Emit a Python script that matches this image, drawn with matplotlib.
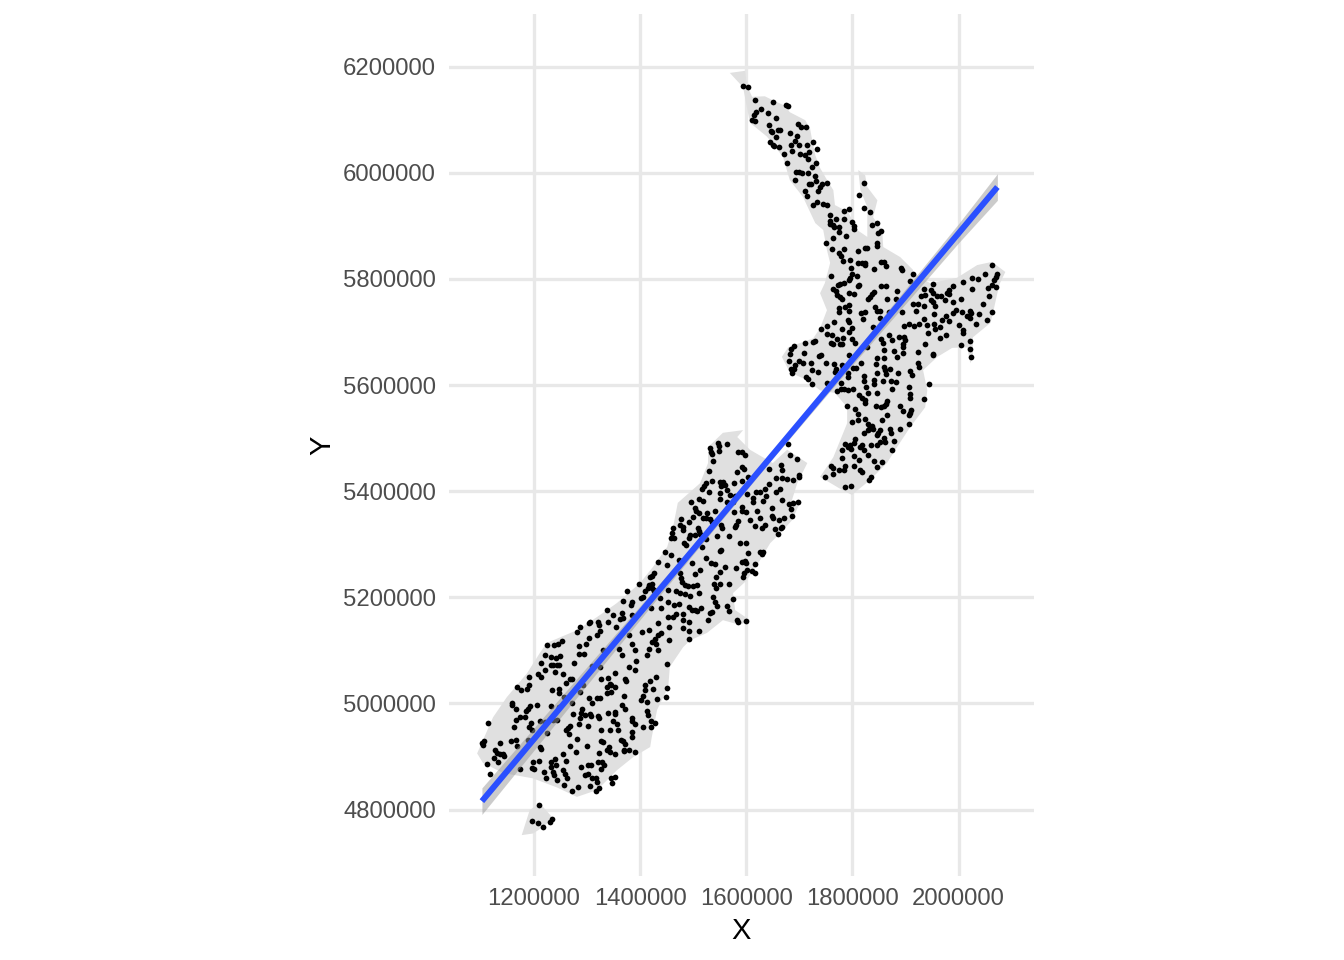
import matplotlib
matplotlib.use("Agg")
import matplotlib.pyplot as plt
from matplotlib.ticker import FuncFormatter
from matplotlib.transforms import ScaledTranslation

plt.rcParams['font.family'] = ['Liberation Sans', 'DejaVu Sans']

KM = 1000
x_ticks = [1200000, 1400000, 1600000, 1800000, 2000000]
y_ticks = [4800000, 5000000, 5200000, 5400000, 5600000, 5800000, 6000000, 6200000]

# coastline outlines, km
north_outline_x = [1569,1598,1601,1611,1635,1649,1673,1682,1711,1720,1724,1730,1739,1750,1764,1767,1792,1809,1828,1828,1815,1811,1824,1828,1847,1839,1856,1858,1890,1914,1914,1946,1997,2035,2063,2088,2078,2073,2065,2060,2027,2027,2022,2016,1988,1960,1933,1941,1937,1909,1884,1865,1833,1799,1781,1739,1764,1790,1790,1767,1739,1715,1682,1667,1679,1726,1739,1752,1739,1748,1758,1752,1745,1730,1707,1682,1669,1639,1607,1601,1594]
north_outline_y = [6188,6192,6165,6143,6144,6137,6126,6114,6099,6084,6062,6033,6009,5990,5967,5939,5926,5892,5879,5935,5967,6005,5995,5973,5948,5916,5892,5860,5841,5817,5811,5792,5802,5826,5832,5813,5792,5773,5737,5717,5690,5653,5641,5671,5670,5653,5628,5590,5558,5521,5483,5453,5421,5393,5402,5427,5464,5528,5558,5585,5590,5609,5624,5653,5671,5688,5707,5741,5773,5792,5830,5854,5892,5905,5954,5986,6030,6068,6094,6124,6161]
south_outline_x = [1556,1594,1583,1607,1650,1677,1715,1696,1686,1701,1686,1664,1645,1626,1601,1575,1579,1607,1588,1556,1526,1494,1481,1456,1453,1432,1422,1419,1387,1356,1319,1281,1243,1198,1142,1104,1093,1104,1123,1149,1187,1211,1224,1281,1319,1356,1400,1424,1451,1462,1471,1513,1528,1528]
south_outline_y = [5510,5515,5502,5478,5453,5478,5453,5415,5383,5378,5345,5321,5302,5270,5232,5208,5176,5157,5148,5157,5133,5119,5106,5069,5031,4988,4937,4918,4899,4874,4837,4824,4842,4859,4869,4888,4906,4931,4974,5012,5057,5095,5114,5138,5163,5189,5227,5257,5295,5332,5378,5415,5453,5483]
stewart_outline_x = [1177,1192,1211,1236,1217,1198]
stewart_outline_y = [4752,4799,4812,4784,4767,4755]

# sample points, km
northland_x = [1593,1603,1617,1650,1674,1678,1627,1618,1640,1615,1656,1610,1617,1643,1697,1703,1712,1646,1649,1659,1664,1683,1656,1696,1692,1645,1651,1652,1661,1684,1700,1715,1725,1734,1686,1672,1701,1710,1718,1717,1677,1732,1723,1693,1699,1705,1717,1730,1692,1731,1719,1722,1753,1742,1738,1711,1735,1715,1725,1734,1745,1752,1821,1813,1822,1833,1785,1794,1757,1769,1784,1799,1758,1757,1763,1765,1774,1775,1802,1803,1836,1846,1854,1849,1764,1788,1751,1762,1847,1847,1811,1824,1827,1784]
northland_y = [6163,6161,6137,6134,6127,6125,6120,6115,6113,6109,6103,6100,6097,6090,6092,6087,6087,6079,6077,6080,6080,6075,6068,6069,6060,6058,6053,6051,6048,6052,6052,6053,6058,6044,6041,6035,6035,6034,6039,6026,6019,6019,6010,6002,6002,5999,5999,5994,5987,5984,5979,5979,5980,5979,5973,5965,5965,5957,5940,5945,5941,5940,5981,5958,5934,5926,5927,5931,5921,5913,5912,5908,5909,5904,5902,5897,5897,5889,5900,5894,5901,5905,5890,5886,5877,5881,5867,5856,5868,5862,5853,5859,5859,5856]

north_x = [1774,1779,1782,1796,1798,1810,1818,1824,1823,1840,1854,1859,1863,1891,1894,1915,1909,1760,1800,1808,1796,1793,1777,1772,1784,1813,1810,1764,1769,1854,1863,1884,1951,2009,2026,2037,2049,2063,2072,2070,2067,2063,2056,2071,1990,1981,1979,1982,2025,1793,1802,1840,1837,1833,1830,1866,1882,1780,1771,1777,1934,1948,1951,1959,1967,1937,1929,1975,1989,2004,1948,1951,1915,1923,1934,1794,1786,1774,1774,1793,1843,1847,1852,1823,1817,1820,1851,1868,1894,1919,1956,1954,1990,1995,2006,2022,2024,2016,2022,2039,2063,2045,2058,1977,1968,1982,1934,1898,1907,1916,1926,1941,1954,1964,1956,1943,2000,2009,2008,2032,2053,1766,1791,1794,1740,1753,1780,1799,1794,1753,1762,1759,1764,1771,1777,1780,1783,1799,1804,1729,1725,1710,1690,1684,1709,1683,1681,1700,1707,1722,1740,1737,1751,1692,1690,1684,1686,1723,1735,1712,1716,1723,1766,1769,1781,1783,1767,1753,1778,1771,1778,1784,1791,1801,1794,1801,1806,1816,1791,1791,1827,1838,1854,1857,1868,1875,1887,1897,1899,1896,1895,1859,1879,1896,1846,1860,1884,1923,1936,1951,1951,1923,1926,1965,1977,2005,2021,2021,2024,1845,1859,1862,1870,1846,1864,1886,1908,1912,1821,1822,1840,1841,1826,1857,1872,1882,1874,1906,1945,1909,1908,1830,1846,1813,1818,1824,1823,1866,1863,1859,1845,1853,1889,1895,1934,1910,1908,1906,1790,1805,1810,1811,1799,1865,1855,1823,1829,1837,1832,1829,1838,1906,1890,1871,1872,1852,1849,1846,1821,1860,1879,1862,1852,1847,1835,1805,1802,1818,1815,1822,1786,1791,1796,1798,1781,1830,1874,1780,1802,1813,1841,1855,1846,1760,1764,1774,1786,1784,1803,1815,1818,1764,1749,1835,1832,1786,1798]
north_y = [5849,5843,5834,5836,5821,5830,5830,5829,5826,5818,5831,5831,5824,5821,5816,5809,5796,5805,5810,5805,5801,5797,5791,5788,5792,5789,5786,5780,5777,5786,5786,5777,5790,5794,5801,5799,5810,5826,5809,5803,5797,5788,5782,5785,5786,5779,5774,5772,5780,5774,5771,5776,5771,5766,5762,5763,5763,5763,5769,5766,5781,5779,5774,5768,5768,5770,5768,5760,5757,5763,5761,5757,5752,5752,5748,5750,5747,5746,5737,5740,5747,5739,5740,5738,5735,5725,5727,5737,5737,5739,5748,5733,5735,5742,5737,5739,5735,5730,5727,5733,5737,5752,5768,5730,5723,5721,5725,5711,5715,5711,5715,5713,5715,5710,5705,5698,5713,5703,5698,5715,5722,5719,5722,5718,5706,5711,5706,5708,5700,5696,5695,5679,5678,5686,5677,5677,5689,5686,5680,5683,5681,5679,5674,5667,5661,5658,5645,5645,5642,5642,5657,5654,5642,5637,5631,5631,5623,5629,5625,5615,5612,5601,5640,5631,5637,5633,5625,5603,5603,5589,5592,5592,5590,5593,5656,5632,5632,5642,5623,5615,5672,5710,5686,5679,5694,5684,5691,5691,5684,5678,5672,5666,5664,5661,5651,5651,5652,5662,5678,5659,5656,5642,5634,5688,5694,5675,5683,5667,5652,5639,5634,5629,5630,5623,5620,5622,5627,5618,5617,5608,5609,5601,5597,5608,5608,5606,5593,5597,5602,5584,5576,5585,5585,5581,5576,5571,5566,5570,5565,5560,5560,5559,5560,5551,5573,5553,5548,5543,5561,5554,5546,5534,5531,5543,5534,5536,5527,5522,5518,5515,5518,5526,5517,5517,5510,5515,5510,5505,5509,5500,5495,5493,5493,5487,5487,5499,5490,5487,5483,5477,5488,5483,5487,5479,5477,5469,5478,5463,5467,5458,5456,5455,5446,5447,5443,5440,5447,5440,5447,5440,5436,5432,5426,5426,5421,5407,5409]

south_upper_x = [1546,1548,1564,1531,1533,1549,1536,1584,1591,1597,1679,1682,1695,1538,1592,1596,1582,1530,1665,1668,1643,1604,1577,1591,1536,1525,1521,1516,1550,1557,1560,1553,1530,1550,1563,1569,1602,1619,1626,1635,1643,1656,1668,1676,1688,1699,1700,1663,1656,1637,1613,1613,1632,1496,1511,1518,1550,1564,1579,1575,1668,1688,1698,1680,1503,1505,1511,1526,1541,1577,1591,1592,1600,1621,1648,1685,1687,1477,1499,1492,1519,1525,1531,1535,1584,1607,1626,1649,1651,1671,1662,1462,1476,1480,1481,1509,1511,1553,1555,1579,1580,1616,1629,1635,1655,1666,1668,1660,1460,1458,1464,1494,1492,1503,1513,1544,1567,1482,1486,1525,1516,1589,1600,1550,1553,1447,1458,1473,1525,1604,1626,1631,1629,1433,1450,1497,1533,1542,1560,1580,1591,1597,1599,1617,1513,1503,1550,1543,1595,1593,1602,1610,1617,1427,1422,1418,1475,1477,1478,1484,1491,1500,1508,1422,1417,1422,1398,1414,1409,1426,1540,1550,1543,1568,1453,1376,1467,1475,1484,1494,1511,1406,1401,1427,1437,1538,1575,1541,1544,1563,1568,1535,1582,1585,1599]
south_upper_y = [5491,5486,5488,5481,5474,5476,5470,5473,5474,5469,5488,5469,5460,5457,5446,5442,5437,5438,5449,5439,5442,5426,5416,5419,5419,5415,5410,5404,5418,5417,5412,5410,5399,5397,5402,5393,5395,5398,5399,5404,5413,5424,5424,5423,5421,5430,5426,5405,5398,5391,5388,5380,5381,5379,5385,5381,5385,5379,5390,5380,5383,5378,5380,5375,5369,5363,5359,5359,5363,5361,5371,5363,5360,5363,5369,5366,5354,5347,5351,5341,5350,5349,5347,5341,5344,5346,5350,5354,5349,5349,5345,5331,5336,5332,5327,5330,5325,5336,5330,5333,5336,5334,5330,5337,5328,5331,5332,5319,5322,5312,5312,5317,5311,5317,5320,5315,5316,5303,5298,5309,5295,5302,5303,5287,5290,5285,5280,5270,5275,5283,5285,5285,5281,5267,5261,5264,5265,5263,5258,5255,5267,5269,5264,5262,5251,5244,5247,5239,5245,5238,5251,5250,5245,5245,5241,5238,5245,5236,5229,5224,5222,5222,5224,5226,5223,5217,5226,5217,5212,5214,5226,5226,5217,5225,5214,5212,5211,5209,5207,5203,5209,5201,5198,5211,5198,5200,5197,5192,5184,5184,5174,5172,5158,5153,5156]

south_lower_x = [1368,1385,1382,1453,1463,1473,1492,1497,1515,1440,1421,1338,1349,1365,1367,1363,1385,1468,1481,1503,1508,1531,1453,1462,1481,1492,1528,1305,1304,1321,1323,1340,1355,1433,1454,1481,1492,1510,1286,1282,1324,1319,1303,1299,1285,1225,1237,1245,1252,1404,1416,1379,1434,1440,1454,1492,1428,1423,1429,1385,1390,1416,1413,1433,1360,1365,1330,1220,1233,1241,1249,1285,1294,1392,1247,1214,1236,1244,1220,1233,1275,1379,1390,1451,1309,1325,1239,1208,1214,1254,1191,1267,1272,1260,1326,1340,1352,1371,1373,1429,1418,1410,1343,1346,1338,1353,1409,1425,1450,1169,1176,1186,1191,1234,1247,1247,1293,1286,1338,1345,1369,1406,1401,1432,1448,1303,1318,1324,1310,1257,1158,1159,1205,1233,1192,1189,1185,1167,1271,1365,1372,1413,1413,1415,1247,1290,1288,1296,1305,1308,1321,1323,1340,1353,1353,1274,1174,1183,1167,1194,1191,1196,1114,1163,1212,1220,1236,1244,1286,1285,1302,1267,1264,1261,1266,1384,1385,1391,1348,1357,1358,1327,1343,1406,1421,1428,1420,1385,1384,1225,1189,1156,1166,1169,1137,1105,1102,1104,1267,1281,1300,1327,1330,1364,1368,1371,1341,1337,1343,1352,1323,1369,1370,1379,1391,1279,1255,1211,1213,1126,1131,1136,1142,1144,1124,1133,1112,1118,1240,1233,1261,1210,1198,1196,1201,1174,1232,1241,1288,1302,1307,1320,1329,1332,1327,1236,1237,1219,1223,1255,1258,1262,1244,1257,1296,1302,1310,1316,1318,1323,1316,1283,1272,1306,1352,1345,1347]
south_lower_y = [5193,5191,5185,5191,5185,5188,5182,5177,5179,5179,5180,5177,5167,5171,5162,5159,5166,5169,5169,5176,5174,5171,5163,5163,5158,5154,5157,5154,5151,5154,5147,5154,5144,5151,5145,5143,5136,5137,5144,5134,5137,5129,5124,5113,5108,5110,5110,5113,5117,5135,5139,5129,5129,5132,5119,5122,5122,5116,5112,5112,5100,5102,5091,5100,5102,5091,5100,5092,5088,5086,5090,5094,5094,5081,5073,5076,5073,5073,5064,5072,5077,5069,5064,5075,5070,5068,5059,5056,5049,5055,5049,5047,5046,5039,5047,5048,5058,5047,5042,5050,5043,5034,5037,5034,5032,5032,5025,5028,5030,5032,5025,5028,5034,5025,5028,5020,5034,5022,5020,5021,5015,5014,5007,5009,5012,5010,5011,5011,5001,5012,5001,4997,4997,4995,4995,4990,4986,4990,5001,4997,4990,5002,4986,4979,4994,4990,4983,4979,4981,4977,4977,4973,4982,4984,4980,4980,4975,4975,4968,4963,4955,4950,4963,4956,4967,4965,4968,4968,4972,4961,4957,4957,4953,4951,4942,4972,4967,4962,4967,4962,4951,4951,4951,4955,4967,4964,4955,4946,4937,4945,4932,4929,4931,4920,4926,4929,4926,4921,4920,4933,4919,4929,4927,4932,4929,4924,4918,4913,4908,4904,4907,4913,4910,4913,4909,4909,4905,4918,4915,4912,4907,4904,4904,4901,4897,4889,4886,4867,4895,4890,4892,4892,4889,4879,4877,4876,4880,4884,4880,4884,4885,4890,4889,4885,4877,4871,4865,4870,4860,4874,4868,4860,4855,4847,4865,4867,4860,4859,4852,4840,4835,4843,4835,4845,4862,4860,4850]

stewart_x = [1210,1197,1207,1218,1234,1230]
stewart_y = [4808,4779,4774,4768,4783,4777]

# fitted line and its confidence band, km
smooth_x = [1102,1300,1500,1650,1800,2000,2073]
smooth_y = [4816,5052,5290,5469,5648,5886,5973]
smooth_lo = [4791,5035,5281,5462,5638,5868,5948]
smooth_hi = [4841,5069,5299,5476,5658,5904,5998]

def km(values):
    return [v * KM for v in values]

fig = plt.figure(figsize=(13.44, 9.6), dpi=100)
ax = fig.add_axes([449/1344, 1-876/960, (1034-449)/1344, (876-14)/960])

LAND = '#E0E0E0'
for ox, oy in [(north_outline_x, north_outline_y), (south_outline_x, south_outline_y), (stewart_outline_x, stewart_outline_y)]:
    ax.fill(km(ox), km(oy), color=LAND, lw=0, zorder=2)

for px, py in [(northland_x, northland_y), (north_x, north_y), (south_upper_x, south_upper_y), (south_lower_x, south_lower_y), (stewart_x, stewart_y)]:
    n = min(len(px), len(py))
    ax.scatter(km(px[:n]), km(py[:n]), s=17, color='black', linewidths=0, zorder=3)

ax.fill_between(km(smooth_x), km(smooth_lo), km(smooth_hi), color='#999999', alpha=0.5, lw=0, zorder=4)
ax.plot(km(smooth_x), km(smooth_y), color='#2B50FF', lw=4.3, solid_capstyle='butt', zorder=5)

ax.set_xlim(1040000, 2142000)
ax.set_ylim(4675000, 6299000)
ax.set_xticks(x_ticks)
ax.set_yticks(y_ticks)
fmt = FuncFormatter(lambda v, _: f"{int(round(v))}")
ax.xaxis.set_major_formatter(fmt)
ax.yaxis.set_major_formatter(fmt)
ax.grid(True, color='#E8E8E8', lw=2.4, zorder=1)
ax.set_axisbelow(True)
for s in ax.spines.values():
    s.set_visible(False)
ax.tick_params(axis='both', length=0, labelsize=17.2, labelcolor='#4D4D4D')
ax.tick_params(axis='x', pad=8.7)
ax.tick_params(axis='y', pad=9.5)
ax.set_xlabel('X', fontsize=21, color='black', labelpad=5)
ax.set_ylabel('Y', fontsize=21, color='black', labelpad=4.5)

fig.savefig('out.png', dpi=100)
